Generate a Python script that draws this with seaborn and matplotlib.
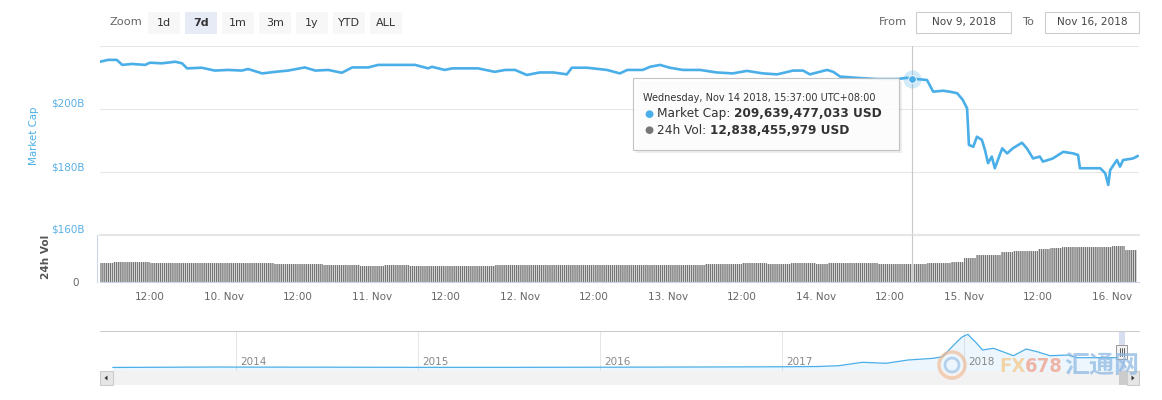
import matplotlib
matplotlib.use("Agg")
import matplotlib.pyplot as plt
import matplotlib.transforms as mtransforms
from matplotlib.patches import Rectangle, Ellipse, Polygon
from matplotlib.lines import Line2D
import seaborn as sns

# ---------------- data ----------------
# hours since 2018-11-09 00:00 (UTC+8)
hours = [3.9, 5.2, 6.6, 7.5, 9.1, 11.2, 12.0, 13.9, 16.1, 17.2,
         18.0, 20.4, 22.5, 24.6, 26.9, 27.9, 30.2, 32.3, 34.4, 37.1,
         38.8, 40.9, 43.1, 44.8, 47.4, 49.0, 51.7, 55.0, 57.1, 57.7,
         59.8, 61.0, 63.6, 65.2, 67.9, 69.6, 71.2, 73.1, 75.2, 77.4,
         79.6, 80.4, 82.9, 86.1, 88.2, 89.4, 91.9, 93.1, 94.7, 96.3,
         98.4, 101.2, 103.9, 106.5, 108.8, 111.4, 113.7, 116.3, 117.9, 119.0,
         121.8, 122.8, 123.9, 126.6, 129.9, 133.1, 134.8, 135.6, 138.0, 139.0,
         140.6, 141.7, 142.9, 143.8, 144.5, 144.8, 145.5, 146.1, 146.9, 147.4,
         147.9, 148.5, 149.0, 150.2, 151.0, 151.9, 153.4, 154.2, 155.2, 156.3,
         156.8, 158.4, 160.1, 161.7, 162.5, 162.8, 164.9, 166.1, 166.9, 167.4,
         167.7, 168.8, 169.3, 169.8, 171.4, 172.2]
# market cap, billions USD
market_cap_b = [215.0, 215.6, 215.6, 214.0, 214.3, 214.0, 214.7, 214.5, 215.0, 214.5,
                212.9, 213.1, 212.2, 212.4, 212.2, 212.7, 211.3, 211.8, 212.2, 213.2,
                212.2, 212.4, 211.5, 213.2, 213.2, 214.0, 214.0, 214.0, 212.9, 213.4,
                212.4, 212.9, 212.9, 212.9, 211.8, 212.4, 212.4, 210.8, 211.6, 211.6,
                211.0, 213.1, 213.1, 212.4, 211.3, 212.4, 212.4, 213.4, 214.0, 213.1,
                212.4, 212.4, 211.6, 211.3, 212.1, 211.3, 211.0, 212.2, 212.2, 211.0,
                212.4, 211.8, 210.3, 209.9, 209.5, 209.5, 209.9, 209.64, 209.2, 205.5,
                205.8, 205.5, 205.0, 202.9, 200.2, 188.6, 188.0, 191.2, 190.2, 187.0,
                182.8, 184.9, 181.2, 187.5, 185.9, 187.5, 189.3, 187.5, 184.3, 184.9,
                183.3, 184.3, 186.4, 185.9, 185.4, 181.2, 181.2, 181.2, 179.6, 175.9,
                180.6, 183.8, 181.7, 183.8, 184.3, 185.1]

# 24h volume, billions USD (2-hour readings, centre hours)
vol_hours = list(range(5, 172, 2))
volume_b = [13.5, 14.3, 14.3, 14.3, 13.5, 13.5, 13.5, 13.5, 13.5, 13.5,
            13.5, 13.5, 13.5, 13.5, 12.8, 12.8, 12.8, 12.8, 12.1, 12.1,
            12.1, 11.4, 11.4, 12.1, 12.1, 11.4, 11.4, 11.4, 11.4, 11.4,
            11.4, 11.4, 11.8, 11.8, 11.8, 11.8, 11.8, 11.8, 11.8, 11.8,
            12.1, 12.1, 12.1, 12.1, 12.1, 12.1, 12.1, 12.1, 12.1, 12.8,
            12.8, 12.8, 13.5, 13.5, 12.8, 12.8, 13.5, 13.5, 12.5, 13.5,
            13.5, 13.5, 13.5, 12.8, 12.8, 12.8, 12.8, 13.5, 13.5, 14.3,
            16.9, 19.0, 19.0, 21.0, 22.1, 22.1, 23.3, 24.0, 24.7, 24.7,
            25.0, 25.0, 25.7, 23.0]

# navigator (all-time market cap), fractional year vs billions USD
nav_year = [2013.32, 2013.9, 2014.0, 2014.5, 2015.0, 2015.5, 2016.0, 2016.5, 2017.0, 2017.2,
            2017.31, 2017.44, 2017.57, 2017.69, 2017.83, 2017.88, 2017.96, 2017.99, 2018.02, 2018.04,
            2018.06, 2018.10, 2018.16, 2018.22, 2018.27, 2018.34, 2018.40, 2018.47, 2018.57, 2018.62,
            2018.75, 2018.86, 2018.875]
nav_cap_b = [1.5, 12, 10, 8, 4, 4, 7, 12, 18, 25,
             45, 130, 105, 187, 230, 270, 645, 770, 830, 730,
             645, 438, 480, 380, 295, 462, 395, 295, 312, 245,
             245, 245, 210]
nav_years = [2014, 2015, 2016, 2017, 2018]

y_ticks = [160, 180, 200, 220]
y_tick_labels = ["$160B", "$180B", "$200B", ""]
x_ticks = [12, 24, 36, 48, 60, 72, 84, 96, 108, 120, 132, 144, 156, 168]
x_tick_labels = ["12:00", "10. Nov", "12:00", "11. Nov", "12:00", "12. Nov", "12:00",
                 "13. Nov", "12:00", "14. Nov", "12:00", "15. Nov", "12:00", "16. Nov"]
zoom_buttons = ["1d", "7d", "1m", "3m", "1y", "YTD", "ALL"]
selected_button = "7d"
date_from = "Nov 9, 2018"
date_to = "Nov 16, 2018"
hover_hour = 135.62
hover_cap_b = 209.639477033
tooltip_time = "Wednesday, Nov 14 2018, 15:37:00 UTC+08:00"
tooltip_cap = "209,639,477,033 USD"
tooltip_vol = "12,838,455,979 USD"

# ---------------- style ----------------
sns.set_style("white")
plt.rcParams["font.family"] = ["DejaVu Sans", "Noto Sans CJK SC"]
plt.rcParams["hatch.linewidth"] = 0.5

W, H = 1162, 400
BLUE = "#4aaee8"
X0, X1 = 3.89, 172.38

fig = plt.figure(figsize=(W / 100, H / 100), dpi=100)
fig.patch.set_facecolor("white")


def add_axes_px(x0, y0, x1, y1):
    return fig.add_axes([x0 / W, 1 - y1 / H, (x1 - x0) / W, (y1 - y0) / H])


def rect_px(x0, y0, x1, y1, **kw):
    r = Rectangle((x0 / W, 1 - y1 / H), (x1 - x0) / W, (y1 - y0) / H,
                  transform=fig.transFigure, **kw)
    fig.add_artist(r)
    return r


def text_px(x, y, s, **kw):
    return fig.text(x / W, 1 - y / H, s, **kw)


def line_px(xs, ys, **kw):
    ln = Line2D([x / W for x in xs], [1 - y / H for y in ys], transform=fig.transFigure, **kw)
    fig.add_artist(ln)
    return ln


# ---------------- main price panel ----------------
ax = add_axes_px(100, 46, 1139, 235)
ax.patch.set_alpha(0)
sns.lineplot(x=hours, y=market_cap_b, ax=ax, color=BLUE, linewidth=1.9, zorder=3)
ax.set_xlim(X0, X1)
ax.set_ylim(160, 220)
ax.set_yticks(y_ticks, y_tick_labels)
ax.tick_params(axis="y", length=0, pad=10.8, labelsize=7.5, labelcolor="#5aafe6")
plt.setp(ax.get_yticklabels(), va="bottom")
ax.tick_params(axis="x", bottom=False, labelbottom=False)
ax.grid(axis="y", color="#e6e6e6", lw=0.75)
ax.grid(axis="x", visible=False)
for s in ax.spines.values():
    s.set_visible(False)
ax.set_xlabel("")
ax.set_ylabel("")
ax.axvline(hover_hour, color="#c8c8c8", lw=0.8, zorder=2)
ax.scatter([hover_hour], [hover_cap_b], s=170, color=BLUE, alpha=0.25, lw=0, zorder=5, clip_on=False)
ax.scatter([hover_hour], [hover_cap_b], s=30, color=BLUE, edgecolor="white", lw=0.6, zorder=6, clip_on=False)

# ---------------- volume panel ----------------
axv = add_axes_px(100, 235, 1139, 282)
axv.patch.set_alpha(0)
axv.bar(vol_hours, volume_b, width=2.06, color="#747474", edgecolor="white",
        linewidth=0.05, hatch="||||||||", zorder=2)
axv.set_xlim(X0, X1)
axv.set_ylim(0, 33.3)
axv.set_yticks([0], ["0"])
axv.tick_params(axis="y", length=0, pad=13, labelsize=7.5, labelcolor="#666666")
plt.setp(axv.get_yticklabels(), va="bottom")
axv.set_xticks(x_ticks, x_tick_labels)
axv.tick_params(axis="x", length=6.5, width=0.75, color="#ccd6eb", pad=1,
                labelsize=7.5, labelcolor="#666666", direction="out")
axv.spines["left"].set_color("#ccd6eb")
axv.spines["left"].set_position(("outward", 2))
axv.spines["bottom"].set_color("#ccd6eb")
axv.spines["top"].set_color("#e6e6e6")
axv.spines["top"].set_linewidth(1.5)
axv.spines["right"].set_visible(False)
axv.axvline(hover_hour, color="#c8c8c8", lw=0.8, zorder=3)

# axis titles
text_px(34, 136, "Market Cap", rotation=90, color=BLUE, fontsize=7.4, ha="center", va="center")
text_px(46, 257, "24h Vol", rotation=90, color="#555555", fontsize=7.6, weight="bold",
        ha="center", va="center")

# ---------------- tooltip ----------------
rect_px(636, 81, 902, 153, facecolor="black", alpha=0.07, lw=0, zorder=9)
rect_px(633, 78, 899, 150, facecolor="white", alpha=0.88, edgecolor="#bbbbbb", lw=0.8, zorder=10)
text_px(643, 98, tooltip_time, fontsize=7.0, color="#333333", va="center", zorder=11)
text_px(644, 113.5, "●", fontsize=7.5, color=BLUE, va="center", zorder=11)
text_px(644, 130, "●", fontsize=7.5, color="#777777", va="center", zorder=11)
fig.canvas.draw()
renderer = fig.canvas.get_renderer()
t1 = text_px(657, 113.5, "Market Cap: ", fontsize=8.7, color="#333333", va="center", zorder=11)
w1 = t1.get_window_extent(renderer).width
text_px(657 + w1, 113.5, tooltip_cap, fontsize=8.7, color="#333333", weight="bold", va="center", zorder=11)
t2 = text_px(657, 130, "24h Vol: ", fontsize=8.7, color="#333333", va="center", zorder=11)
w2 = t2.get_window_extent(renderer).width
text_px(657 + w2, 130, tooltip_vol, fontsize=8.7, color="#333333", weight="bold", va="center", zorder=11)

# ---------------- top controls ----------------
text_px(110, 22, "Zoom", fontsize=8.2, color="#666666", va="center")
for i, lab in enumerate(zoom_buttons):
    bx = 148 + 37 * i
    sel = lab == selected_button
    rect_px(bx, 12, bx + 32, 34, facecolor="#e6ebf5" if sel else "#f7f7f7", lw=0)
    text_px(bx + 16, 23, lab, ha="center", va="center", fontsize=8, color="#333333",
            weight="bold" if sel else "normal")
text_px(879, 22, "From", fontsize=8.2, color="#666666", va="center")
rect_px(916, 12, 1011, 33, facecolor="white", edgecolor="#cccccc", lw=0.8)
text_px(963.5, 22.5, date_from, fontsize=7.6, color="#444444", ha="center", va="center")
text_px(1022, 22, "To", fontsize=8.2, color="#666666", va="center")
rect_px(1045, 12, 1139, 33, facecolor="white", edgecolor="#cccccc", lw=0.8)
text_px(1092, 22.5, date_to, fontsize=7.6, color="#444444", ha="center", va="center")

# ---------------- navigator ----------------
axn = add_axes_px(100, 331, 1139, 371)
axn.patch.set_alpha(0)
axn.fill_between(nav_year, nav_cap_b, -87.5, color=BLUE, alpha=0.1, lw=0)
sns.lineplot(x=nav_year, y=nav_cap_b, ax=axn, color=BLUE, linewidth=0.9)
axn.set_xlim(2013.25, 2018.96)
axn.set_ylim(-87.5, 912.5)
axn.set_xticks(nav_years)
axn.set_yticks([])
axn.tick_params(length=0, labelbottom=False, labelleft=False)
axn.grid(axis="x", color="#e6e6e6", lw=0.75)
axn.grid(axis="y", visible=False)
axn.set_xlabel("")
axn.set_ylabel("")
for s in axn.spines.values():
    s.set_visible(False)
blend = mtransforms.blended_transform_factory(axn.transData, axn.transAxes)
for yr in nav_years:
    axn.text(yr + 0.02, 0.22, str(yr), transform=blend, fontsize=7.5, color="#888888", va="center")
line_px([100, 1139], [331, 331], color="#cccccc", lw=0.8)

# selected range + handle
rect_px(1119, 331, 1125, 371, facecolor="#ccd6eb", alpha=0.8, lw=0)
rect_px(1116, 345, 1127, 359, facecolor="#f2f2f2", edgecolor="#999999", lw=0.7)
for lx in (1119.5, 1121.5, 1123.5):
    line_px([lx, lx], [348, 356], color="#444444", lw=0.6)

# scrollbar
rect_px(100, 371, 1139, 385, facecolor="#f2f2f2", lw=0)
rect_px(1119, 371, 1127, 385, facecolor="#cccccc", lw=0)
rect_px(100, 371, 113, 385, facecolor="#e6e6e6", edgecolor="#cccccc", lw=0.8)
rect_px(1127, 371, 1139, 385, facecolor="#e6e6e6", edgecolor="#cccccc", lw=0.8)
fig.add_artist(Polygon([(104.5 / W, 1 - 378 / H), (107.5 / W, 1 - 375.5 / H), (107.5 / W, 1 - 380.5 / H)],
                       closed=True, transform=fig.transFigure, color="#333333", lw=0))
fig.add_artist(Polygon([(1134.5 / W, 1 - 378 / H), (1131.5 / W, 1 - 375.5 / H), (1131.5 / W, 1 - 380.5 / H)],
                       closed=True, transform=fig.transFigure, color="#333333", lw=0))

# watermark
fig.add_artist(Ellipse((952 / W, 1 - 365 / H), 26 / W, 26 / H, transform=fig.transFigure,
                       facecolor="none", edgecolor="#f2b48a", lw=2.5, alpha=0.6))
fig.add_artist(Ellipse((952 / W, 1 - 365 / H), 14 / W, 14 / H, transform=fig.transFigure,
                       facecolor="none", edgecolor="#8fb9e3", lw=2.0, alpha=0.6))
fx = text_px(999, 366, "FX", fontsize=14.5, weight="bold", color="#f5c98c", alpha=0.75,
             va="center", fontstretch="condensed")
fig.canvas.draw()
wfx = fx.get_window_extent(fig.canvas.get_renderer()).width
text_px(999 + wfx, 366, "678", fontsize=14.5, weight="bold", color="#f0a08a", alpha=0.75,
        va="center", fontstretch="condensed")
text_px(1064, 366, "汇通网", fontsize=18, weight="bold", color="#8fb9e3", alpha=0.75,
        va="center", family=["Noto Sans CJK SC", "DejaVu Sans"])

fig.savefig("out.png", dpi=100, facecolor="white")
